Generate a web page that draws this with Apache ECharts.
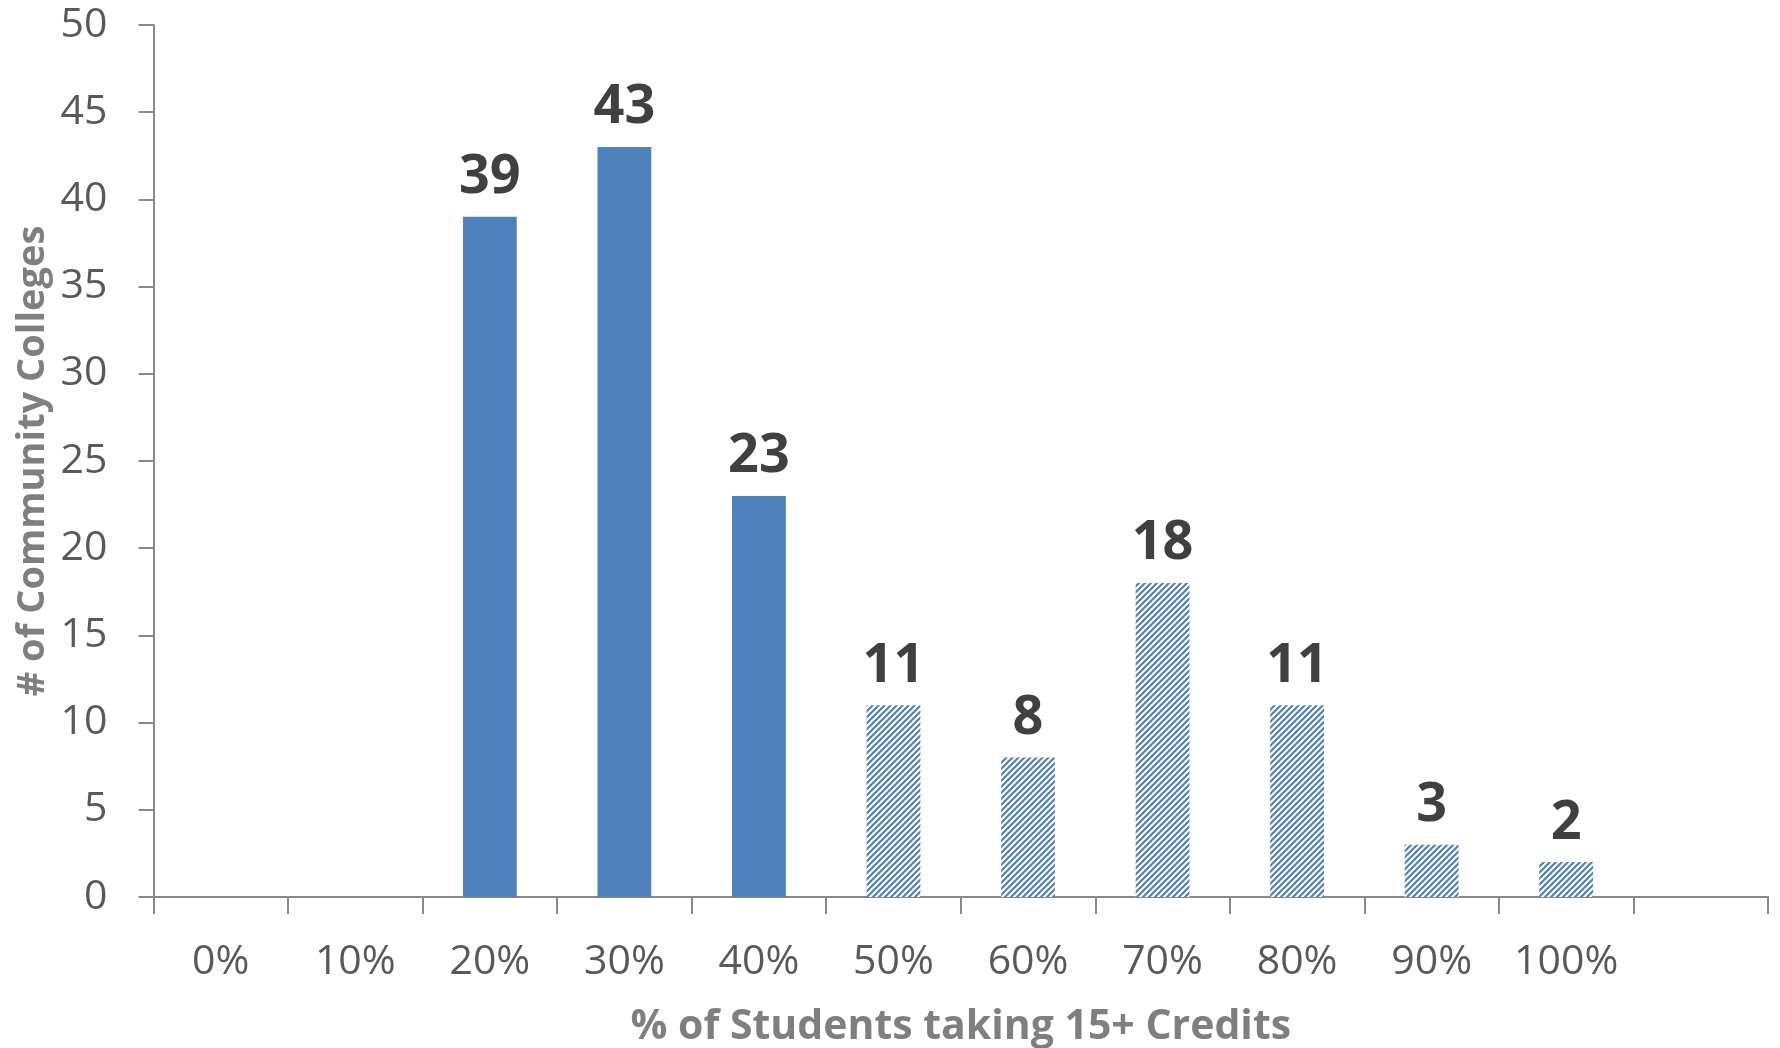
<!DOCTYPE html>
<html>
<head>
<meta charset="utf-8">
<title>Community colleges by share of students taking 15+ credits</title>
<script src="https://cdn.jsdelivr.net/npm/echarts@6/dist/echarts.min.js"></script>
<style>
  html, body { margin: 0; padding: 0; background: #ffffff; }
  #chart { width: 1780px; height: 1048px; }
</style>
</head>
<body>
<div id="chart"></div>
<script>
// Share of students taking 15+ credits (bins); the final slot is an empty spacer
const categories = ['0%', '10%', '20%', '30%', '40%', '50%', '60%', '70%', '80%', '90%', '100%', ''];
// Number of community colleges in each bin
const collegeCounts = [0, 0, 39, 43, 23, 11, 8, 18, 11, 3, 2, null];
// Bins from this index on are drawn with a hatched fill
const firstHatchedBin = 5;
// Value axis ticks
const yTicks = { min: 0, max: 50, step: 5 };

const BLUE = '#4F81BD';

// Diagonal stripe tile for the hatched bars
function makeHatch() {
  const size = 6;
  const c = document.createElement('canvas');
  c.width = size; c.height = size;
  const g = c.getContext('2d');
  g.fillStyle = '#ffffff';
  g.fillRect(0, 0, size, size);
  g.strokeStyle = BLUE;
  g.lineWidth = 2.2;
  g.lineCap = 'square';
  g.beginPath();
  for (let k = -1; k <= 1; k++) {
    g.moveTo(-size + k * size, size * 2);
    g.lineTo(size * 2 + k * size, -size);
  }
  g.stroke();
  return c;
}
const hatch = { image: makeHatch(), repeat: 'repeat' };

const barData = collegeCounts.map((v, i) => ({
  value: v,
  itemStyle: { color: i >= firstHatchedBin ? hatch : BLUE }
}));

const chart = echarts.init(document.getElementById('chart'), null, { renderer: 'canvas' });
chart.setOption({
  animation: false,
  backgroundColor: '#ffffff',
  grid: {
    left: 153.5, right: 12, top: 25, bottom: 151,
    containLabel: false,
    outerBoundsMode: 'none'
  },
  xAxis: {
    type: 'category',
    data: categories,
    boundaryGap: true,
    name: '% of Students taking 15+ Credits',
    nameLocation: 'middle',
    nameGap: 110,
    nameMoveOverlap: false,
    nameTextStyle: { fontFamily: 'Open Sans', fontWeight: 'bold', fontSize: 41, color: '#7F7F7F' },
    axisLine: { show: true, lineStyle: { color: '#898989', width: 2 } },
    axisTick: { show: true, alignWithLabel: false, length: 17, lineStyle: { color: '#898989', width: 2 } },
    axisLabel: { fontFamily: 'Open Sans', fontSize: 41, color: '#595959', margin: 45, interval: 0 },
    splitLine: { show: false }
  },
  yAxis: {
    type: 'value',
    min: yTicks.min,
    max: yTicks.max,
    interval: yTicks.step,
    name: '# of Community Colleges',
    nameLocation: 'middle',
    nameGap: 101,
    nameMoveOverlap: false,
    nameTextStyle: { fontFamily: 'Open Sans', fontWeight: 'bold', fontSize: 38, color: '#7F7F7F' },
    axisLine: { show: true, lineStyle: { color: '#898989', width: 2 } },
    axisTick: { show: true, length: 15, lineStyle: { color: '#898989', width: 2 } },
    axisLabel: { fontFamily: 'Open Sans', fontSize: 41, color: '#595959', margin: 46 },
    splitLine: { show: false }
  },
  series: [{
    type: 'bar',
    data: barData,
    barWidth: '40%',
    label: {
      show: true,
      position: 'top',
      distance: 12,
      fontFamily: 'Open Sans',
      fontWeight: 'bold',
      fontSize: 54,
      color: '#404040',
      formatter: p => (p.value ? String(p.value) : '')
    }
  }]
});
</script>
</body>
</html>
